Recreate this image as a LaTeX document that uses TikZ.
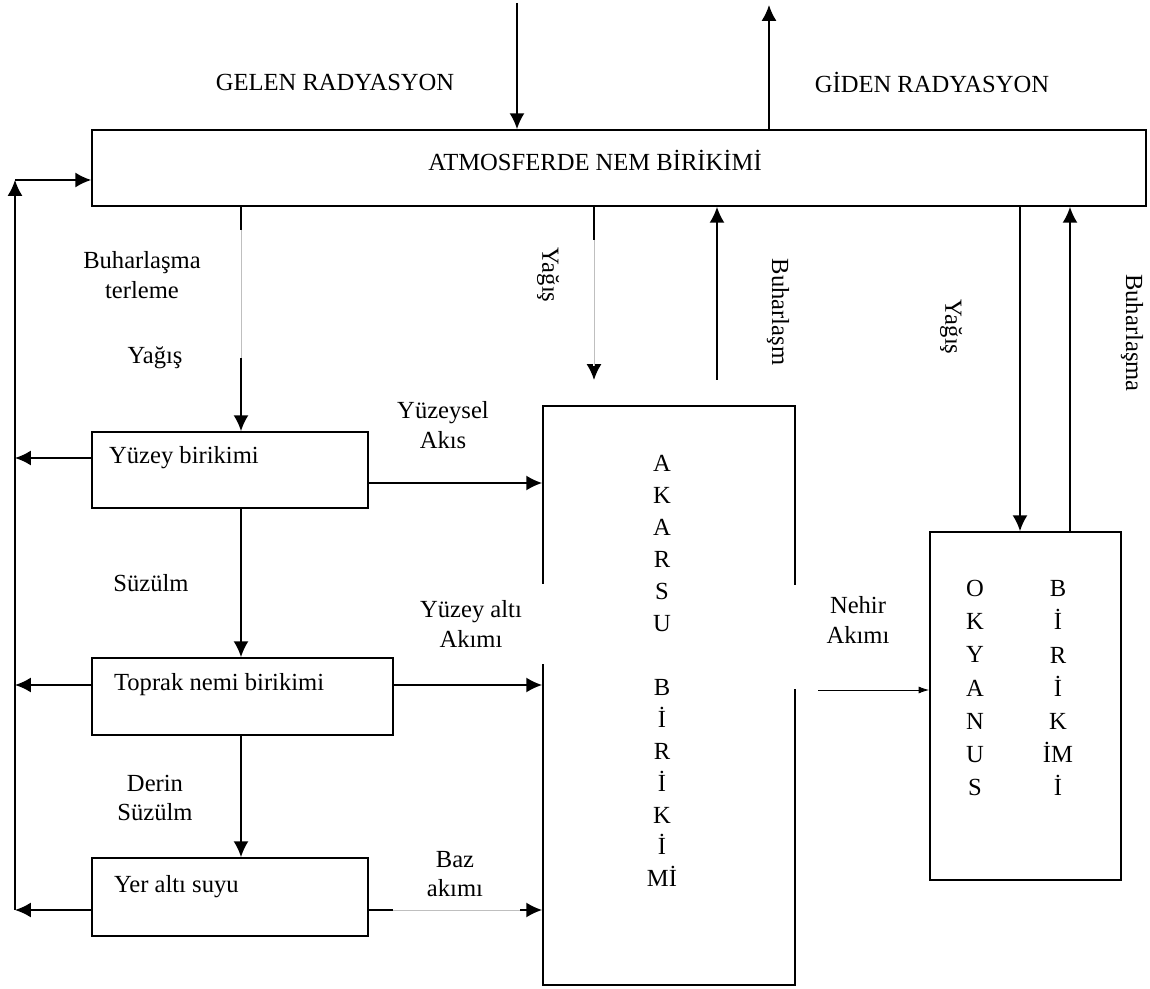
\documentclass[tikz,border=0pt]{standalone}
\usepackage{fontspec}
\setmainfont{Liberation Serif}
\usetikzlibrary{calc,arrows.meta}

\tikzset{
	box/.style={draw, line width=1pt, inner sep=0pt},
	flow/.style={line width=1pt, -{Latex[length=9pt,width=8.5pt]}},
	thinflow/.style={line width=0.5pt, -{Latex[length=6pt,width=4pt]}},
	faint/.style={white, line width=1.6pt, postaction={draw, black!25, line width=0.4pt}},
	lbl/.style={align=center, inner sep=1pt, font=\fontsize{14}{17}\selectfont},
	col/.style={align=center, inner sep=0pt, font=\fontsize{14}{18.2}\selectfont},
	colb/.style={align=center, inner sep=0pt, font=\fontsize{14}{18.8}\selectfont}
}

\begin{document}
\begin{tikzpicture}[x=0.02cm,y=-0.02cm]
				\useasboundingbox (0,0) rectangle (1150,989);
				% boxes
				\node[box, minimum width=21.08cm, minimum height=1.52cm] (atm) at (619,168) {};
				\node[box, minimum width=5.52cm, minimum height=1.52cm] (yuzey) at (230,470) {};
				\node[box, minimum width=6.02cm, minimum height=1.54cm] (toprak) at (242.5,696.5) {};
				\node[box, minimum width=5.52cm, minimum height=1.56cm] (yeralti) at (230,897) {};
				\node[box, minimum width=5.04cm, minimum height=11.58cm] (akarsu) at (669,695.5) {};
				\node[box, minimum width=3.82cm, minimum height=6.96cm] (okyanus) at (1025.5,706) {};
				\node[lbl] (atmtxt) at (595,160) {ATMOSFERDE NEM BİRİKİMİ};
				\node[lbl, anchor=west] (yuzeytxt) at (107,458) {Yüzey birikimi};
				\node[lbl, anchor=west] (topraktxt) at (112,685) {Toprak nemi birikimi};
				\node[lbl, anchor=west] (yeraltitxt) at (112,887) {Yer altı suyu};
				\node[col] (akarsutxt) at (662,671) {A\\K\\A\\R\\S\\U\\[18.2pt]B\\İ\\R\\İ\\K\\İ\\Mİ};
				\node[colb] (okyanustxt) at (975,688) {O\\K\\Y\\A\\N\\U\\S};
				\node[colb] (okybirtxt) at (1058,688) {B\\İ\\R\\İ\\K\\İM\\İ};
				% labels
				\node[lbl] (gelen) at (335,82) {GELEN RADYASYON};
				\node[lbl] (giden) at (932,82) {GİDEN RADYASYON};
				\node[lbl] (buhter) at (142,275) {Buharlaşma\\terleme};
				\node[lbl] (yagisa) at (155,358) {Yağış};
				\node[lbl] (suzulm) at (151,583) {Süzülm};
				\node[lbl] (derin) at (155,798) {Derin\\Süzülm};
				\node[lbl] (yuzeysel) at (443,425) {Yüzeysel\\Akıs};
				\node[lbl] (baz) at (455,874) {Baz\\akımı};
				\node[lbl, fill=white, minimum width=3.1cm, minimum height=1.6cm] (yuzeyalti) at (471,624) {Yüzey altı\\Akımı};
				\node[lbl, fill=white, minimum width=2.7cm, minimum height=2.1cm] (nehir) at (858,637) {Nehir\\Akımı\\[2pt]};
				\node[lbl, rotate=-90] (yagisb) at (548,275) {Yağış};
				\node[lbl, rotate=-90] (buharb) at (778,312) {Buharlaşm};
				\node[lbl, rotate=-90] (yagisc) at (951,327) {Yağış};
				\node[lbl, rotate=-90] (buharc) at (1132,333) {Buharlaşma};
				% connectors
				\coordinate (gelenucu) at (517,3);
				\coordinate (gidenucu) at (769,5);
				\coordinate (cA) at (241,0);
				\coordinate (cR) at (594,380);
				\coordinate (cB) at (717,380);
				\coordinate (cO) at (1020,0);
				\coordinate (cP) at (1070,0);
				\coordinate (fb) at (15,910);
				\coordinate (fbtop) at (15,180);
				\coordinate (rY) at (0,458);
				\coordinate (rYs) at (0,483);
				\coordinate (rT) at (0,685);
				\coordinate (nehirbas) at (818,690);
				\draw[flow] (gelenucu) -- (gelenucu |- atm.north);
				\draw[flow] (gidenucu |- atm.north) -- (gidenucu);
				\draw[flow] (cA |- atm.south) -- (cA |- yuzey.north);
				\draw[flow] (cA |- yuzey.south) -- (cA |- toprak.north);
				\draw[flow] (cA |- toprak.south) -- (cA |- yeralti.north);
				\draw[flow] (cR |- atm.south) -- (cR);
				\draw[flow] (cB) -- (cB |- atm.south);
				\draw[flow] (cO |- atm.south) -- (cO |- okyanus.north);
				\draw[flow] (cP |- okyanus.north) -- (cP |- atm.south);
				\draw[flow] (fb) -- (fbtop);
				\draw[flow] (fbtop) -- (atm.west |- fbtop);
				\draw[flow] (yuzey.west |- rY) -- (fb |- rY);
				\draw[flow] (toprak.west |- rT) -- (fb |- rT);
				\draw[flow] (yeralti.west |- fb) -- (fb);
				\draw[flow] (yuzey.east |- rYs) -- (akarsu.west |- rYs);
				\draw[flow] (toprak.east |- rT) -- (akarsu.west |- rT);
				\draw[flow] (yeralti.east |- fb) -- (akarsu.west |- fb);
				\draw[thinflow] (nehirbas) -- (okyanus.west |- nehirbas);
				% faded parts
				\draw[faint] ($(cA)+(0,230)$) -- ($(cA)+(0,358)$);
				\draw[faint] ($(cR)+(0,-140)$) -- ($(cR)+(0,-14)$);
				\draw[faint] (393,910) -- (520,910);
\end{tikzpicture}
\end{document}
